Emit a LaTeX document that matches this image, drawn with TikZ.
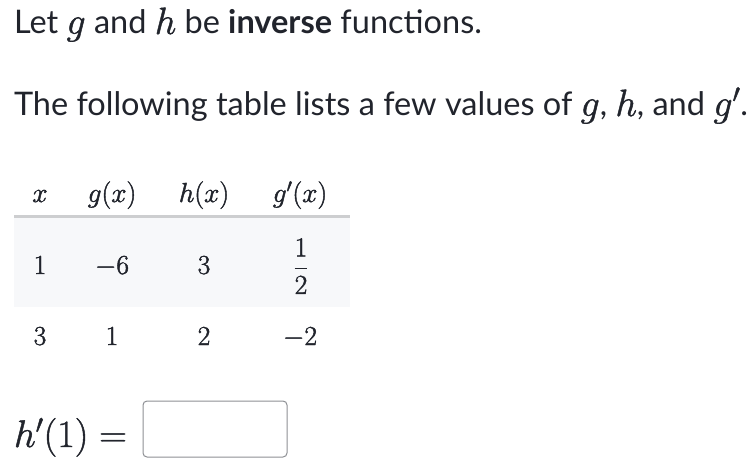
\RequirePackage{fix-cm}
\documentclass[tikz,border=0pt]{standalone}
\usepackage{amsmath}
\usepackage{fontspec}
\setmainfont{Lato}
\definecolor{ink}{HTML}{21242C}
\definecolor{rowshade}{HTML}{F7F8FA}
\definecolor{ruleline}{HTML}{CDCED0}
\definecolor{boxline}{HTML}{8E9094}
\newcommand{\txtsz}{\fontsize{32.5}{38}\selectfont}
\newcommand{\mthsz}{\fontsize{38}{44}\selectfont}
\newcommand{\tblsz}{\fontsize{27.5}{32}\selectfont}
\newcommand{\anssz}{\fontsize{38.5}{44}\selectfont}
\newcommand{\heavy}[1]{\special{pdf:literal direct 2 Tr 0.45 w}#1\special{pdf:literal direct 0 Tr}}
\newcommand{\im}[1]{{\mthsz\heavy{$#1$}}}
\begin{document}
\begin{tikzpicture}[x=1pt,y=-1pt,
  every node/.style={inner sep=0pt,outer sep=0pt,text=ink},
  line/.style={anchor=base west},
  cell/.style={anchor=base,font=\tblsz},
  answerbox/.style={draw=boxline,line width=1pt,rounded corners=4pt,fill=white}]
\useasboundingbox (0,0) rectangle (754,468);
\node[line] (l1) at (14,34) {\txtsz Let \im{g} and \im{h} be \textbf{inverse} functions.};
\node[line] (l2) at (14,116) {\txtsz The following table lists a few values of \im{g}, \im{h}, and \im{g'}.};
% table
\fill[rowshade] (14,218) rectangle (350,307);
\draw[ruleline,line width=3pt] (14,216.5) -- (350,216.5);
\node[cell] (hx) at (40,202) {\heavy{$x$}};
\node[cell] (hg) at (112,202) {\heavy{$g(x)$}};
\node[cell] (hh) at (204,202) {\heavy{$h(x)$}};
\node[cell] (hd) at (300,202) {\heavy{$g'(x)$}};
\node[cell] (a1) at (40,274) {\heavy{$1$}};
\node[cell] (b1) at (112,274) {\heavy{$-6$}};
\node[cell] (c1) at (204,274) {\heavy{$3$}};
\node[cell] (d1) at (301,275) {\heavy{$\dfrac{1}{2}$}};
\node[cell] (a2) at (40,345) {\heavy{$3$}};
\node[cell] (b2) at (112,345) {\heavy{$1$}};
\node[cell] (c2) at (204,345) {\heavy{$2$}};
\node[cell] (d2) at (300,345) {\heavy{$-2$}};
% answer
\node[line] (ans) at (14,447) {\anssz\heavy{$h'(1)=$}};
\draw[answerbox] (143,401) rectangle (287,457);
\end{tikzpicture}
\end{document}
